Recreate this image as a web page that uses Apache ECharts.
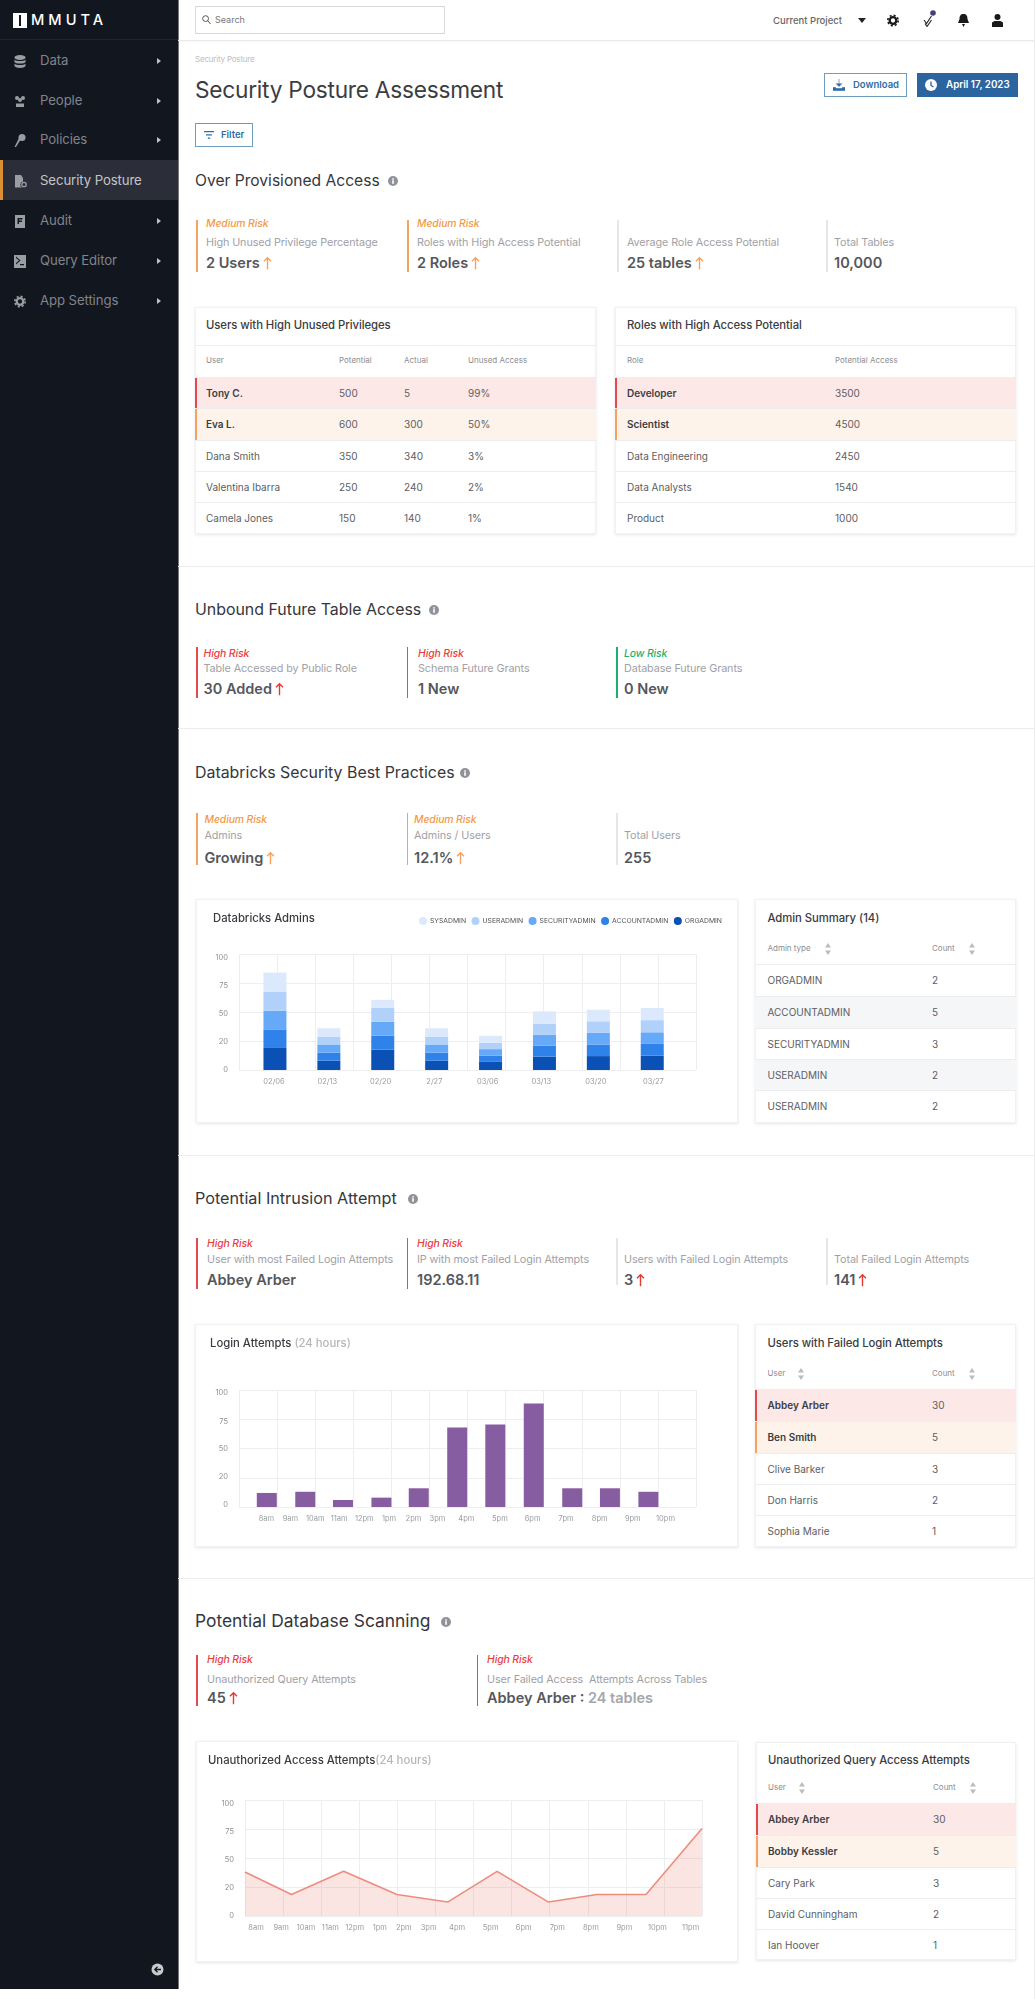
<!DOCTYPE html>
<html><head><meta charset="utf-8"><title>Security Posture Assessment</title>
<script src="https://cdn.jsdelivr.net/npm/echarts@6/dist/echarts.min.js"></script>
<style>
html,body{margin:0;padding:0;background:#fff;}
#page{position:relative;width:1035px;height:1999px;overflow:hidden;font-family:Inter,"Noto Sans",sans-serif;background:#fff;}
#page div,#page span.a{position:absolute;}
.t{white-space:nowrap;transform:translateY(-50%);line-height:1.2;}
.card{background:#fff;box-sizing:border-box;border:1px solid #f1f1f3;box-shadow:0 1px 3px rgba(0,0,0,.10);}
svg{display:block;}
</style></head><body><div id="page"></div>
<script>
/* ---------- chart data ---------- */
const adminDates = ['02/06','02/13','02/20','2/27','03/06','03/13','03/20','03/27'];
const adminDateSlots = [0.92,2.32,3.72,5.13,6.53,7.94,9.37,10.88];
const orgAdmin      = [19,8,17.5,8,7,11.5,12,12.5];
const accountAdmin  = [16,7,12,7,5.5,9.5,10,10];
const securityAdmin = [16,7,12,7,5.5,9.5,10,10];
const userAdmin     = [16.5,6.5,12,6.5,5.5,9.5,10,10.5];
const sysAdmin      = [16.5,7.5,7,7.5,6,10.5,10,10.5];

const tickLabels = ['0','20','50','75','100'];
const hourLabels = ['8am','9am','10am','11am','12pm','1pm','2pm','3pm','4pm','5pm','6pm','7pm','8pm','9pm','10pm'];
const hourLabelsLong = hourLabels.concat(['11pm']);
const hourLabelSlots = [0.72,1.35,2.0,2.63,3.29,3.94,4.58,5.21,5.97,6.85,7.71,8.59,9.47,10.34,11.2];
const hourLabelSlotsLong = [0.29,0.95,1.6,2.24,2.88,3.54,4.17,4.82,5.57,6.45,7.32,8.2,9.08,9.96,10.83,11.7];

const loginSlots  = [0.73,1.74,2.73,3.74,4.72,5.73,6.73,7.74,8.75,9.74,10.75];
const loginValues = [12,13,6,8,16,68,70.5,88.5,16,16,13];

const accessSlots  = [0,1.22,2.59,3.99,5.32,6.62,7.97,9.24,10.53,12];
const accessValues = [38,18.5,38.5,18.5,12,38.5,12,18.5,18.5,75.5];

/* ---------- table and tile text ---------- */
const menuItems = ['Data','People','Policies','Security Posture','Audit','Query Editor','App Settings'];
const usersRows = [['Tony C.','500','5','99%'],['Eva L.','600','300','50%'],['Dana Smith','350','340','3%'],['Valentina Ibarra','250','240','2%'],['Camela Jones','150','140','1%']];
const rolesRows = [['Developer','3500'],['Scientist','4500'],['Data Engineering','2450'],['Data Analysts','1540'],['Product','1000']];
const adminRows = [['ORGADMIN','2'],['ACCOUNTADMIN','5'],['SECURITYADMIN','3'],['USERADMIN','2'],['USERADMIN','2']];
const failedRows = [['Abbey Arber','30'],['Ben Smith','5'],['Clive Barker','3'],['Don Harris','2'],['Sophia Marie','1']];
const queryRows = [['Abbey Arber','30'],['Bobby Kessler','5'],['Cary Park','3'],['David Cunningham','2'],['Ian Hoover','1']];

const RED='#e5484d',ORANGE='#f4a460',GREEN='#1fae6f',GRAY='#e6e6e8';
const page=document.getElementById('page');
function box(x,y,w,h,style,cls){const d=document.createElement('div');d.style.cssText=`left:${x}px;top:${y}px;width:${w}px;height:${h}px;`+(style||'');if(cls)d.className=cls;page.appendChild(d);return d;}
function txt(x,y,s,size,color,weight,extra){const d=document.createElement('div');d.className='t';d.style.cssText=`left:${x}px;top:${y}px;font-size:${size}px;color:${color};font-weight:${weight||400};`+(extra||'');d.innerHTML=s;page.appendChild(d);return d;}
function svg(x,y,w,h,inner,vb){const d=document.createElement('div');d.style.cssText=`left:${x}px;top:${y}px;width:${w}px;height:${h}px;`;d.innerHTML=`<svg width="${w}" height="${h}" viewBox="${vb||('0 0 '+w+' '+h)}">${inner}</svg>`;page.appendChild(d);}
function info(x,y){svg(x-5,y-5,10,10,'<circle cx="5" cy="5" r="5" fill="#8f9399"/><rect x="4.2" y="4.2" width="1.6" height="3.6" fill="#fff"/><rect x="4.2" y="2.2" width="1.6" height="1.4" fill="#fff"/>');}
function arrow(c){return `<svg style="display:inline-block;vertical-align:-2px;margin-left:3px" width="9" height="14" viewBox="0 0 9 14"><path d="M4.5 13V1.5M1 5L4.5 1.5L8 5" fill="none" stroke="${c}" stroke-width="1.4"/></svg>`;}
function sortIcon(x,y){svg(x-3,y-6,6,12,'<path d="M3 0L6 4.5H0Z M3 12L0 7.5H6Z" fill="#b9bcc2"/>');}
function gear(c,cx,cy){return `<circle cx="${cx}" cy="${cy}" r="3.300" fill="none" stroke="${c}" stroke-width="2.300"/><circle cx="${cx}" cy="${cy}" r="5.200" fill="none" stroke="${c}" stroke-width="1.600" stroke-dasharray="2.050 2.030"/>`;}

/* sidebar */
box(0,0,178,1989,'background:#12161f;border-right:1px solid #777;box-sizing:content-box;');
box(0,39,178,1,'background:#22262f;');
box(13,13,14,15,'background:#fff;');box(19,15,2.2,11,'background:#12161f;');
txt(31,20.5,'MMUTA',14.6,'#fff',500,'letter-spacing:4px;');
box(0,160,178,40,'background:#2b2e38;');box(0,160,3,40,'background:#dc8f33;');
const menuY=[61,101,140,181,221,261,301];
const icons=[
 '<ellipse cx="6" cy="2.5" rx="5.5" ry="2.5"/><path d="M.5 4.5c1 2 10 2 11 0v2.5c-1 2-10 2-11 0zM.5 8.5c1 2 10 2 11 0V11c-1 2.500-10 2.500-11 0z"/>',
 '<circle cx="3" cy="3" r="2"/><circle cx="9" cy="3" r="2"/><circle cx="6" cy="5" r="2"/><path d="M2 12V8.500h8V12z"/>',
 '<circle cx="8" cy="3.500" r="3.500"/><path d="M7 5L2 13H.5L5 4z"/>',
 '<path d="M1 0h6l2 3v3.500a3.200 3.200 0 0 0-1 6H1z"/><circle cx="10" cy="9.500" r="2.200" fill="none" stroke="#9a9da3" stroke-width="1.300"/>',
 '<path d="M1 0h10v13H1zM3.500 3v6h1.500V7h3V5.500H5V4.500h3.500V3z" fill-rule="evenodd"/>',
 '<path d="M0 0h12v13H0zM2 3l3 2.500-3 2.500v1.500L6.500 5.500 2 1.500zM6 9v1.200h4V9z" fill-rule="evenodd"/>',
 gear('#9a9da3',6,6.5)];
menuItems.forEach((m,i)=>{
  const on=i===3;
  svg(14,menuY[i]-6.5,13,13,`<g fill="#9a9da3">${icons[i]}</g>`);
  txt(40,menuY[i],m,13.2,on?'#c3c5c9':'#80848b',400,'letter-spacing:-.1px;');
  if(!on)svg(157,menuY[i]-3,4,6,'<path d="M0 0L4 3L0 6Z" fill="#bfc1c5"/>');
});
svg(151,1963,13,13,'<circle cx="6.500" cy="6.500" r="6" fill="#c9cacc"/><path d="M10 6.500H4M6.500 3.800L3.800 6.500L6.500 9.200" fill="none" stroke="#12161f" stroke-width="1.300"/>');

/* top bar */
box(178,40,857,1,'background:#e9e9eb;box-shadow:0 1px 2px rgba(0,0,0,.06);');
box(1034,0,1,1999,'background:#ececec;');
box(195,6,250,28,'border:1px solid #d9d9dc;box-sizing:border-box;');
svg(202,15,9,10,'<circle cx="3.600" cy="3.600" r="2.900" fill="none" stroke="#555" stroke-width="1"/><path d="M5.800 5.800L8.500 9" stroke="#555" stroke-width="1"/>');
txt(215,20,'Search',9,'#777');
txt(773,20.5,'Current Project',9.5,'#666',500);
svg(858,18,8,5,'<path d="M0 0H8L4 5Z" fill="#222"/>');
svg(887,14,12,13,gear('#1a1a1a',6,6.5));
svg(923,10,13,17,'<circle cx="10" cy="3" r="2.800" fill="#4b3f72"/><path d="M1 10L3.500 13.500L8.500 6M2 13.500l2 3L8.500 10" fill="none" stroke="#222" stroke-width="1.100"/>');
svg(958,14,11,13,'<path d="M5.500 0c3 0 4 2 4 5l1.500 4H0L1.500 5c0-3 1-5 4-5zM4 10h3l-1.500 3z" fill="#1a1a1a"/>');
svg(992,14,11,13,'<circle cx="5.500" cy="3" r="3" fill="#1a1a1a"/><path d="M0 13V8.500L2.500 7h6L11 8.500V13z" fill="#1a1a1a"/>');

/* page head */
txt(195,60,'Security Posture',8,'#bcbdc0',400,'letter-spacing:-.2px;');
txt(195,90,'Security Posture Assessment',22.7,'#3b3d42',400,'letter-spacing:-.25px;');
box(824,73,83,24,'border:1px solid #6f9dc0;box-sizing:border-box;');
svg(833,79,12,12,'<path d="M6 0v7M3 4.500L6 7.500L9 4.500M0 8.500v3h12v-3h-2.500l-1 1h-5l-1-1z" fill="#2f6da6" stroke="#2f6da6" stroke-width=".6"/>');
txt(853,85,'Download',9.5,'#2f6da6',600);
box(917,73,101,24,'background:#2c649f;');
svg(925,79,12,12,'<circle cx="6" cy="6" r="6" fill="#fff"/><path d="M6 2.500V6.500L8.500 8" fill="none" stroke="#2c649f" stroke-width="1.300"/>');
txt(946,85,'April 17, 2023',9.8,'#fff',600);
box(195,123,58,24,'border:1px solid #6f9dc0;box-sizing:border-box;');
svg(204,130,10,10,'<path d="M0 1h10v1.300H0zM2 4.200h6v1.300H2zM3.800 7.500h2.400v1.300H3.800z" fill="#2f6da6"/>');
txt(221,135,'Filter',9.5,'#2f6da6',600);

/* section dividers and headings */
[566,728,1155,1578].forEach(y=>box(178,y,856,1,'background:#ececee;'));
const HC='#35373c';
txt(195,181,'Over Provisioned Access',15.6,HC,400);info(393,181);
txt(195,610,'Unbound Future Table Access',15.9,HC,400);info(434,610);
txt(195,773,'Databricks Security Best Practices',15.9,HC,400);info(465,773);
txt(195,1199,'Potential Intrusion Attempt',16.2,HC,400);info(413,1199);
txt(195,1621,'Potential Database Scanning',17.4,HC,400);info(446,1622);

/* metric tiles */
function tile(bx,top,bot,tx,yr,yl,yv,color,risk,label,value){
  box(bx,top,1.5,bot-top,`background:${color};`);
  if(risk)txt(tx,yr,risk,10.4,color===ORANGE?'#f39a47':color===RED?'#e8413f':color,500,'font-style:italic;letter-spacing:-.1px;');
  txt(tx,yl,label,10.8,'#9fa1a6',400,'letter-spacing:-.1px;');
  txt(tx,yv,value,14.5,'#55575c',600);
}
const up=arrow('#f3a25f'),upR=arrow('#e53935');
tile(196,220,272,206,224,243,263,ORANGE,'Medium Risk','High Unused Privilege Percentage','2 Users'+up);
tile(407,220,272,417,224,243,263,ORANGE,'Medium Risk','Roles with High Access Potential','2 Roles'+up);
tile(617,220,272,627,224,243,263,GRAY,'','Average Role Access Potential','25 tables'+up);
tile(826,220,272,834,224,243,263,GRAY,'','Total Tables','10,000');
tile(196,647,698,203.5,654,669,689,RED,'High Risk','Table Accessed by Public Role','30 Added'+upR);
tile(406.5,647,698,418,654,669,689,RED,'High Risk','Schema Future Grants','1 New');
tile(616,647,698,624,654,669,689,GREEN,'Low Risk','Database Future Grants','0 New');
tile(196,813,865,204.5,820,836,858,ORANGE,'Medium Risk','Admins','Growing'+up);
tile(406.5,813,865,414,820,836,858,ORANGE,'Medium Risk','Admins / Users','12.1%'+up);
tile(616,813,865,624,820,836,858,GRAY,'','Total Users','255');
tile(196,1238,1289,207,1244,1260,1280,RED,'High Risk','User with most Failed Login Attempts','Abbey Arber');
tile(406.5,1238,1289,417,1244,1260,1280,RED,'High Risk','IP with most Failed Login Attempts','192.68.11');
tile(616,1238,1285,624,1244,1260,1280,GRAY,'','Users with Failed Login Attempts','3'+upR);
tile(826,1238,1285,834,1244,1260,1280,GRAY,'','Total Failed Login Attempts','141'+upR);
tile(196,1655,1706,207,1660,1680,1698,RED,'High Risk','Unauthorized Query Attempts','45'+upR);
tile(476.5,1655,1706,487,1660,1680,1698,RED,'High Risk','User Failed Access&nbsp; Attempts Across Tables','Abbey Arber : <span style="color:#a4a6ab">24 tables</span>');

/* tables */
const BF='#3b3d42';
function table(o){
  box(o.x,o.y,o.w,o.h,'','card');
  txt(o.tx,o.ty,o.title,11.3,'#3a3c41',500,'letter-spacing:-.05px;');
  if(o.titleRule)box(o.x,o.titleRule,o.w,1,'background:#eeeef0;');
  o.heads.forEach((h,i)=>{txt(o.cols[i],o.hy,h,8,'#8b8d92');});
  (o.sort||[]).forEach(s=>sortIcon(s,o.hy));
  o.rows.forEach((r,i)=>{
    const y0=o.rowY[i],y1=o.rowY[i+1],cy=(y0+y1)/2;
    let bg='',bar='';
    if(o.flag&&i===0){bg='#fde8e8';bar=RED;}
    if(o.flag&&i===1){bg='#fdf3ea';bar=ORANGE;}
    if(o.zebra&&i%2===1)bg='#f5f6f8';
    if(bg)box(o.x,y0,o.w,y1-y0,`background:${bg};`);
    if(bar)box(o.x,y0,1.5,y1-y0,`background:${bar};`);
    box(o.x,y0,o.w,1,'background:#ededf0;');
    r.forEach((c,j)=>txt(o.cols[j],cy,c,10,j===0&&o.flag&&i<2?BF:'#5c5e63',j===0&&o.flag&&i<2?600:400));
  });
}
const topRows=[377,408,440,471,502,534];
table({x:195,y:307,w:401,h:227,tx:206,ty:326,title:'Users with High Unused Privileges',titleRule:345,hy:361,
  heads:['User','Potential','Actual','Unused Access'],cols:[206,339,404,468],rows:usersRows,rowY:topRows,flag:true});
table({x:615,y:307,w:401,h:227,tx:627,ty:326,title:'Roles with High Access Potential',titleRule:345,hy:361,
  heads:['Role','Potential Access'],cols:[627,835],rows:rolesRows,rowY:topRows,flag:true});
table({x:755,y:899,w:261,h:224,tx:767.500,ty:919,title:'Admin Summary (14)',hy:949,
  heads:['Admin type','Count'],cols:[767.500,932],sort:[828,972],rows:adminRows,rowY:[964,996,1028,1059,1090,1122],zebra:true});
table({x:755,y:1324,w:261,h:223,tx:767.500,ty:1344,title:'Users with Failed Login Attempts',hy:1374,
  heads:['User','Count'],cols:[767.500,932],sort:[801,972],rows:failedRows,rowY:[1389,1421,1453,1484,1515,1547],flag:true});
table({x:756,y:1742,w:260,h:218,tx:768,ty:1761,title:'Unauthorized Query Access Attempts',hy:1788,
  heads:['User','Count'],cols:[768,933],sort:[802,973],rows:queryRows,rowY:[1803,1835,1867,1898,1929,1960],flag:true});

/* charts */
const FF='Inter, "Noto Sans", sans-serif';
function chartBox(x,y,w,h){const d=box(x,y,w,h,'','card');return echarts.init(d,null,{width:w-2,height:h-2,renderer:'canvas'});}
function xAxis(slots,labels,margin){return {type:'value',min:0,max:12,interval:1,
  axisLine:{show:false},axisTick:{show:false},splitLine:{show:true,lineStyle:{color:'#eeeef0',width:1}},
  axisLabel:{customValues:slots,margin:margin,fontSize:7.5,color:'#9a9ca0',fontFamily:FF,hideOverlap:false,showMinLabel:true,showMaxLabel:true,
    formatter:function(v){return labels[slots.indexOf(v)]||'';}}};}
function yAxis(slots,pad){return {type:'value',min:0,max:100,interval:25,
  axisLine:{show:false},axisTick:{show:false},splitLine:{show:true,lineStyle:{color:'#eeeef0',width:1}},
  axisLabel:{customValues:slots,margin:11,padding:[pad,0,0,0],fontSize:7.5,color:'#8f9195',fontFamily:FF,showMinLabel:true,showMaxLabel:true,
    formatter:function(v){return tickLabels[slots.indexOf(v)]||'';}}};}
const pairs=(xs,ys)=>ys.map((v,i)=>[xs[i],v]);
const titleStyle={fontSize:11.3,fontWeight:500,color:'#3a3c41',fontFamily:FF};

const adminChart=chartBox(196,899,542,224);
const adminSeries=[['ORGADMIN',orgAdmin,'#0b50b4'],['ACCOUNTADMIN',accountAdmin,'#2f82e9'],['SECURITYADMIN',securityAdmin,'#66a9f8'],['USERADMIN',userAdmin,'#b1d1fb'],['SYSADMIN',sysAdmin,'#dce9fd']];
adminChart.setOption({animation:false,
  title:{text:'Databricks Admins',left:16,top:13,padding:0,textStyle:titleStyle},
  legend:{data:['SYSADMIN','USERADMIN','SECURITYADMIN','ACCOUNTADMIN','ORGADMIN'],left:222,top:17,padding:0,icon:'circle',itemWidth:8,itemHeight:8,itemGap:5.5,selectedMode:false,
    textStyle:{fontSize:6.8,color:'#4f5156',fontFamily:FF,padding:[0,0,0,-2]}},
  grid:[{left:42,top:54,width:457,height:116},{left:51,top:54,width:431.2,height:116}],
  xAxis:[xAxis(adminDateSlots,adminDates,8),{type:'category',gridIndex:1,data:adminDates,show:false}],
  yAxis:[yAxis([0,24.1,48.2,72.4,96.5],2),{type:'value',gridIndex:1,min:0,max:100,interval:25,show:false}],
  series:adminSeries.map(s=>({name:s[0],type:'bar',stack:'a',barWidth:23,xAxisIndex:1,yAxisIndex:1,data:s[1],itemStyle:{color:s[2]}}))
});

const loginChart=chartBox(195,1324,543,223);
loginChart.setOption({animation:false,
  title:{text:'Login Attempts {g|(24 hours)}',left:14,top:13,padding:0,textStyle:{...titleStyle,rich:{g:{fontSize:11.3,color:'#b5b6ba',fontFamily:FF}}}},
  grid:{left:43,top:65,width:457,height:117},
  xAxis:xAxis(hourLabelSlots,hourLabels,8),
  yAxis:yAxis([1.7,25.9,49.4,73,97.4],0),
  series:[{type:'bar',barWidth:20,data:pairs(loginSlots,loginValues),itemStyle:{color:'#875da1'}}]
});

const accessChart=chartBox(196,1741,542,221);
accessChart.setOption({animation:false,
  title:{text:'Unauthorized Access Attempts{g|(24 hours)}',left:11,top:13,padding:0,textStyle:{...titleStyle,rich:{g:{fontSize:11.3,color:'#b5b6ba',fontFamily:FF}}}},
  grid:{left:48,top:58,width:457,height:116},
  xAxis:xAxis(hourLabelSlotsLong,hourLabelsLong,8),
  yAxis:yAxis([0,24.3,48.6,72.8,97.1],11),
  series:[{type:'line',symbol:'none',data:pairs(accessSlots,accessValues),lineStyle:{color:'#ee8c7e',width:1.6},areaStyle:{color:'rgba(232,110,95,.26)'}}]
});
</script></body></html>
